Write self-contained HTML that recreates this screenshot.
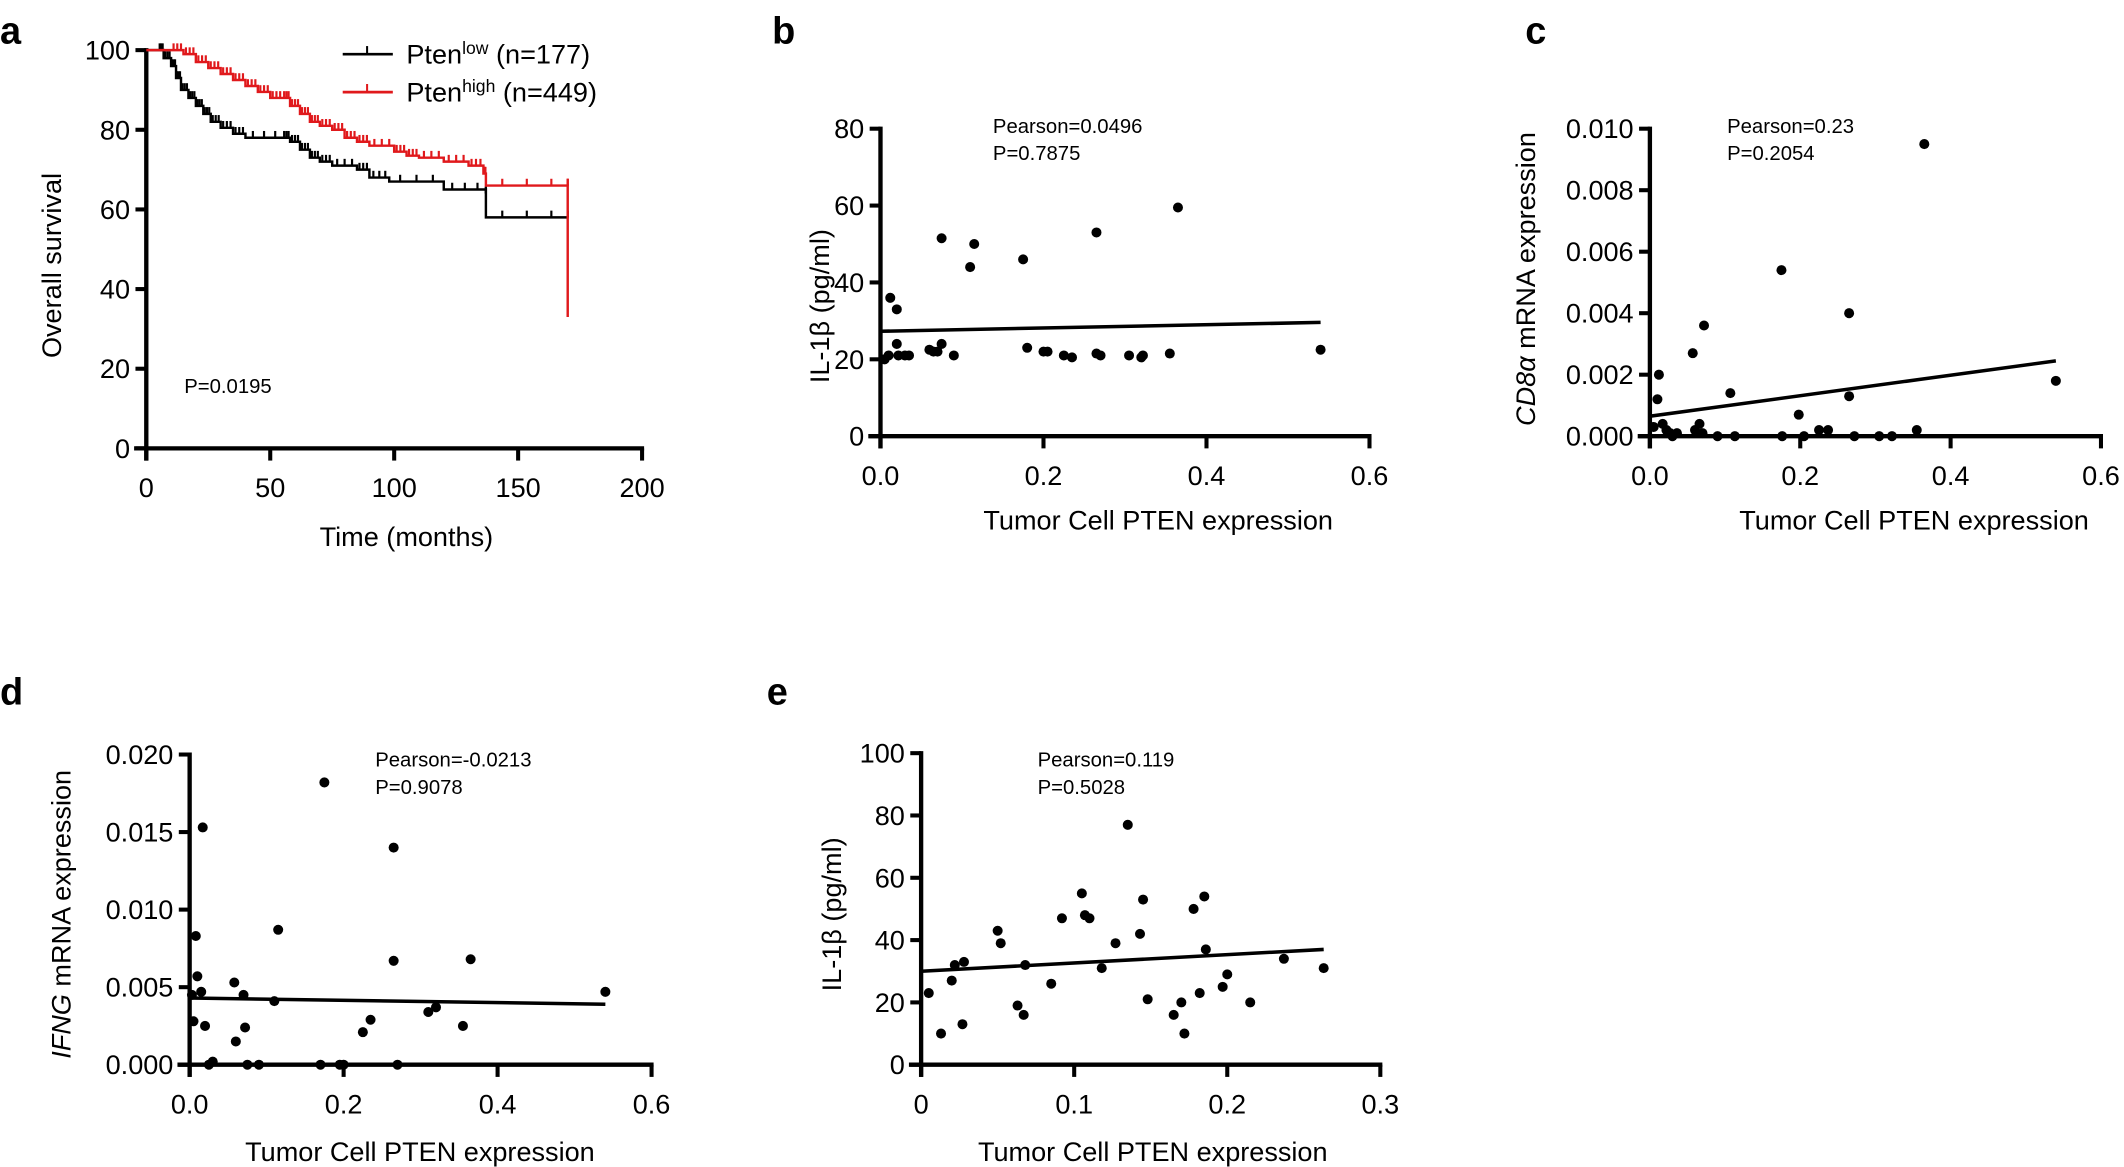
<!DOCTYPE html>
<html><head><meta charset="utf-8"><style>
html,body{margin:0;padding:0;background:#fff;width:2124px;height:1167px;overflow:hidden}
svg text{font-family:"Liberation Sans",Arial,sans-serif;fill:#000}
</style></head><body>
<svg id="s" width="2124" height="1167" viewBox="0 0 1568 861.5" xmlns="http://www.w3.org/2000/svg">
<text x="0" y="32" font-size="28" font-weight="bold">a</text>
<text x="570" y="32" font-size="28" font-weight="bold">b</text>
<text x="1126" y="32" font-size="28" font-weight="bold">c</text>
<text x="0" y="520" font-size="28" font-weight="bold">d</text>
<text x="566" y="520" font-size="28" font-weight="bold">e</text>
<line x1="253" y1="40" x2="290" y2="40" stroke="#000" stroke-width="2"/><line x1="271" y1="34" x2="271" y2="40" stroke="#000" stroke-width="1.5"/>
<line x1="253" y1="68" x2="290" y2="68" stroke="#e0191c" stroke-width="2"/><line x1="271" y1="62" x2="271" y2="68" stroke="#e0191c" stroke-width="1.5"/>
<text x="300" y="47" font-size="20">Pten<tspan font-size="13" dy="-7">low</tspan><tspan dy="7"> (n=177)</tspan></text>
<text x="300" y="75" font-size="20">Pten<tspan font-size="13" dy="-7">high</tspan><tspan dy="7"> (n=449)</tspan></text>
<text x="136" y="290" font-size="15">P=0.0195</text>
<text x="733" y="98" font-size="15">Pearson=0.0496</text><text x="733" y="118" font-size="15">P=0.7875</text>
<text x="1275" y="98" font-size="15">Pearson=0.23</text><text x="1275" y="118" font-size="15">P=0.2054</text>
<text x="277" y="566" font-size="15">Pearson=-0.0213</text><text x="277" y="586" font-size="15">P=0.9078</text>
<text x="766" y="566" font-size="15">Pearson=0.119</text><text x="766" y="586" font-size="15">P=0.5028</text>
<text x="300" y="403" font-size="20" text-anchor="middle">Time (months)</text>
<text x="855" y="391" font-size="20" text-anchor="middle">Tumor Cell PTEN expression</text>
<text x="1413" y="391" font-size="20" text-anchor="middle">Tumor Cell PTEN expression</text>
<text x="310" y="857" font-size="20" text-anchor="middle">Tumor Cell PTEN expression</text>
<text x="851" y="857" font-size="20" text-anchor="middle">Tumor Cell PTEN expression</text>
<text transform="translate(45,196) rotate(-90)" font-size="20" text-anchor="middle">Overall survival</text>
<text transform="translate(612,226) rotate(-90)" font-size="20" text-anchor="middle">IL-1β (pg/ml)</text>
<text transform="translate(1133,206) rotate(-90)" font-size="20" text-anchor="middle"><tspan font-style="italic">CD8α</tspan> mRNA expression</text>
<text transform="translate(52,675) rotate(-90)" font-size="20" text-anchor="middle"><tspan font-style="italic">IFNG</tspan> mRNA expression</text>
<text transform="translate(621,675) rotate(-90)" font-size="20" text-anchor="middle">IL-1β (pg/ml)</text>
</svg>
<script>
var S=document.getElementById('s'),NS='http://www.w3.org/2000/svg';
function el(t,a,txt){var e=document.createElementNS(NS,t);for(var k in a)e.setAttribute(k,a[k]);if(txt!=null)e.textContent=txt;S.appendChild(e);return e;}
function panel(o){
 var X=function(v){return o.x0+(v-o.xmin)/(o.xmax-o.xmin)*(o.x1-o.x0)};
 var Y=function(v){return o.y0-(v-o.ymin)/(o.ymax-o.ymin)*(o.y0-o.y1)};
 el('line',{x1:o.x0,y1:o.y1-1.5,x2:o.x0,y2:o.y0+9,stroke:'#000','stroke-width':3.2});
 el('line',{x1:o.x0-9,y1:o.y0,x2:o.x1+1.5,y2:o.y0,stroke:'#000','stroke-width':3.2});
 o.yt.forEach(function(t){var y=Y(t[0]);el('line',{x1:o.x0-8,y1:y,x2:o.x0,y2:y,stroke:'#000','stroke-width':3});el('text',{x:o.x0-12,y:y+7,'font-size':20,'text-anchor':'end'},t[1]);});
 o.xt.forEach(function(t){var x=X(t[0]);el('line',{x1:x,y1:o.y0,x2:x,y2:o.y0+9,stroke:'#000','stroke-width':3});el('text',{x:x,y:o.y0+36,'font-size':20,'text-anchor':'middle'},t[1]);});
 if(o.pts)o.pts.forEach(function(p){el('circle',{cx:X(p[0]),cy:Y(p[1]),r:3.7,fill:'#000'});});
 if(o.line)el('line',{x1:X(o.line[0]),y1:Y(o.line[1]),x2:X(o.line[2]),y2:Y(o.line[3]),stroke:'#000','stroke-width':2.6});
 return {X:X,Y:Y};
}
var a=panel({x0:108,x1:474,y0:331,y1:37,xmin:0,xmax:200,ymin:0,ymax:100,
 yt:[[0,'0'],[20,'20'],[40,'40'],[60,'60'],[80,'80'],[100,'100']],xt:[[0,'0'],[50,'50'],[100,'100'],[150,'150'],[200,'200']]});
function km(pts,col){var d='M'+a.X(pts[0][0])+','+a.Y(pts[0][1]);for(var i=1;i<pts.length;i++){d+=' H'+a.X(pts[i][0])+' V'+a.Y(pts[i][1]);}
 el('path',{d:d,fill:'none',stroke:col,'stroke-width':1.8});
 for(var i=1;i<pts.length-1;i++){for(var k=0;k<3;k++){var m=pts[i][0]+(pts[i+1][0]-pts[i][0])*(0.2+0.3*k);el('line',{x1:a.X(m),y1:a.Y(pts[i][1]),x2:a.X(m),y2:a.Y(pts[i][1])-5,stroke:col,'stroke-width':1.6});}}}
var blk=[[0,100],[5,100],[7,98],[10,96],[12,93],[14,90],[17,88],[20,86],[23,84],[26,82],[30,80.5],[35,79],[40,78],[55,78],[58,77],[62,75],[66,73],[70,72],[75,71],[85,70],[90,68],[98,67],[120,65],[137,64],[137,58],[170,58],[170,58]];
var red=[[0,100],[10,100],[15,99],[20,97],[25,95.5],[30,94],[35,92.5],[40,91],[45,89.5],[50,88],[55,88],[58,86],[62,84],[66,82],[70,81],[75,80],[80,78],[85,77],[90,76],[100,74.5],[105,73.5],[110,73],[120,72],[130,71],[136,69],[137,66],[170,66],[170,33]];
km(blk,'#000');km(red,'#e0191c');
panel({x0:650,x1:1011,y0:322,y1:95,xmin:0,xmax:0.6,ymin:0,ymax:80,
 yt:[[0,'0'],[20,'20'],[40,'40'],[60,'60'],[80,'80']],xt:[[0,'0.0'],[0.2,'0.2'],[0.4,'0.4'],[0.6,'0.6']],
 pts:[[0.005,20],[0.01,21],[0.012,36],[0.02,33],[0.02,24],[0.022,21],[0.03,21],[0.035,21],[0.06,22.5],[0.065,22],[0.07,22],[0.075,24],[0.075,51.5],[0.09,21],[0.11,44],[0.115,50],[0.175,46],[0.18,23],[0.2,22],[0.205,22],[0.225,21],[0.235,20.5],[0.265,53],[0.265,21.5],[0.27,21],[0.305,21],[0.32,20.5],[0.322,21],[0.355,21.5],[0.365,59.5],[0.54,22.5]],
 line:[0,27.3,0.54,29.6]});
panel({x0:1218,x1:1551,y0:322,y1:95,xmin:0,xmax:0.6,ymin:0,ymax:0.01,
 yt:[[0,'0.000'],[0.002,'0.002'],[0.004,'0.004'],[0.006,'0.006'],[0.008,'0.008'],[0.01,'0.010']],xt:[[0,'0.0'],[0.2,'0.2'],[0.4,'0.4'],[0.6,'0.6']],
 pts:[[0.005,0.0003],[0.01,0.0012],[0.012,0.002],[0.017,0.0004],[0.022,0.0002],[0.027,0.0001],[0.03,0],[0.036,0.0001],[0.057,0.0027],[0.06,0.0002],[0.066,0.0004],[0.072,0.0036],[0.07,0.0001],[0.09,0],[0.107,0.0014],[0.113,0],[0.176,0],[0.175,0.0054],[0.198,0.0007],[0.205,0],[0.225,0.0002],[0.237,0.0002],[0.265,0.004],[0.265,0.0013],[0.272,0],[0.305,0],[0.322,0],[0.355,0.0002],[0.365,0.0095],[0.54,0.0018]],
 line:[0,0.00065,0.54,0.00245]});
panel({x0:140,x1:481,y0:786,y1:557,xmin:0,xmax:0.6,ymin:0,ymax:0.02,
 yt:[[0,'0.000'],[0.005,'0.005'],[0.01,'0.010'],[0.015,'0.015'],[0.02,'0.020']],xt:[[0,'0.0'],[0.2,'0.2'],[0.4,'0.4'],[0.6,'0.6']],
 pts:[[0.003,0.0045],[0.005,0.0028],[0.008,0.0083],[0.01,0.0057],[0.015,0.0047],[0.017,0.0153],[0.02,0.0025],[0.025,0],[0.03,0.0002],[0.058,0.0053],[0.06,0.0015],[0.07,0.0045],[0.072,0.0024],[0.075,0],[0.09,0],[0.11,0.0041],[0.115,0.0087],[0.17,0],[0.175,0.0182],[0.195,0],[0.2,0],[0.225,0.0021],[0.235,0.0029],[0.265,0.014],[0.265,0.0067],[0.27,0],[0.31,0.0034],[0.32,0.0037],[0.355,0.0025],[0.365,0.0068],[0.54,0.0047]],
 line:[0,0.0043,0.54,0.0039]});
panel({x0:680,x1:1019,y0:786,y1:556,xmin:0,xmax:0.3,ymin:0,ymax:100,
 yt:[[0,'0'],[20,'20'],[40,'40'],[60,'60'],[80,'80'],[100,'100']],xt:[[0,'0'],[0.1,'0.1'],[0.2,'0.2'],[0.3,'0.3']],
 pts:[[0.005,23],[0.013,10],[0.02,27],[0.022,32],[0.027,13],[0.028,33],[0.05,43],[0.052,39],[0.063,19],[0.067,16],[0.068,32],[0.085,26],[0.092,47],[0.105,55],[0.107,48],[0.11,47],[0.118,31],[0.127,39],[0.135,77],[0.143,42],[0.145,53],[0.148,21],[0.165,16],[0.17,20],[0.172,10],[0.178,50],[0.182,23],[0.185,54],[0.186,37],[0.197,25],[0.2,29],[0.215,20],[0.237,34],[0.263,31]],
 line:[0,30,0.263,37]});
</script>
</body></html>
